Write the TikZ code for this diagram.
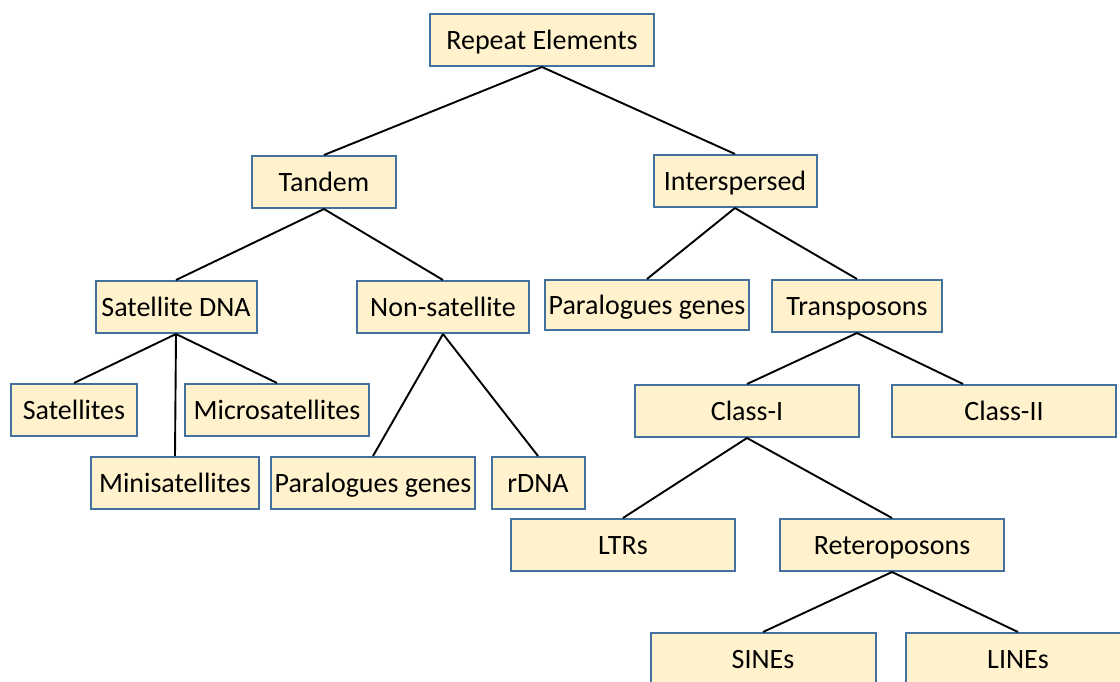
\documentclass[tikz,border=0pt]{standalone}
\usepackage{fontspec}
\setmainfont{Carlito}
\usepackage{tikz}
\usetikzlibrary{positioning, calc}
\definecolor{boxfill}{HTML}{FFF2CC}
\definecolor{boxline}{HTML}{41719C}

\begin{document}
\begin{tikzpicture}[x=1pt, y=-1pt,
      box/.style={rectangle, draw=boxline, fill=boxfill, line width=2pt,
                  align=center, inner sep=0pt, minimum height=52pt,
                  font=\fontsize{28}{33}\selectfont,
                  text height=21pt, text depth=3pt},
      link/.style={line width=1.9pt, black},
      ]
    \useasboundingbox (0,0) rectangle (1120,681);

    % top
    \node[box, minimum width=224pt] (rep) at (542,40) {Repeat Elements};
    \node[box, minimum width=144pt] (tan) at (324,182) {Tandem};
    \node[box, minimum width=163pt] (int) at (735,181) {Interspersed};

    % tandem side
    \node[box, minimum width=161pt] (sat) at (176,307) {Satellite DNA};
    \node[box, minimum width=172pt] (nsat) at (443,307) {Non-satellite};
    \node[box, minimum width=126pt] (sats) at (74,410) {Satellites};
    \node[box, minimum width=184pt] (micro) at (277,410) {Microsatellites};
    \node[box, minimum width=168pt] (mini) at (175,483) {Minisatellites};
    \node[box, minimum width=204pt] (parl) at (373,483) {Paralogues genes};
    \node[box, minimum width=93pt] (rdna) at (538,483) {rDNA};

    % interspersed side
    \node[box, minimum width=204pt, minimum height=50pt] (parr) at (647,305) {Paralogues genes};
    \node[box, minimum width=170pt] (trans) at (857,306) {Transposons};
    \node[box, minimum width=224pt] (c1) at (747,411) {Class-I};
    \node[box, minimum width=224pt] (c2) at (1004,411) {Class-II};
    \node[box, minimum width=224pt] (ltr) at (623,545) {LTRs};
    \node[box, minimum width=224pt] (retro) at (892,545) {Reteroposons};
    \node[box, minimum width=225pt] (sine) at (763,659) {SINEs};
    \node[box, minimum width=224pt] (line) at (1018,659) {LINEs};

    \draw[link] (rep.south) -- (tan.north);
    \draw[link] (rep.south) -- (int.north);
    \draw[link] (tan.south) -- (sat.north);
    \draw[link] (tan.south) -- (nsat.north);
    \draw[link] (int.south) -- (parr.north);
    \draw[link] (int.south) -- (trans.north);
    \draw[link] (sat.south) -- (sats.north);
    \draw[link] (sat.south) -- (mini.north);
    \draw[link] (sat.south) -- (micro.north);
    \draw[link] (nsat.south) -- (parl.north);
    \draw[link] (nsat.south) -- (rdna.north);
    \draw[link] (trans.south) -- (c1.north);
    \draw[link] (trans.south) -- ([xshift=-41pt]c2.north);
    \draw[link] (c1.south) -- (ltr.north);
    \draw[link] (c1.south) -- (retro.north);
    \draw[link] (retro.south) -- (sine.north);
    \draw[link] (retro.south) -- (line.north);
  \end{tikzpicture}
\end{document}
